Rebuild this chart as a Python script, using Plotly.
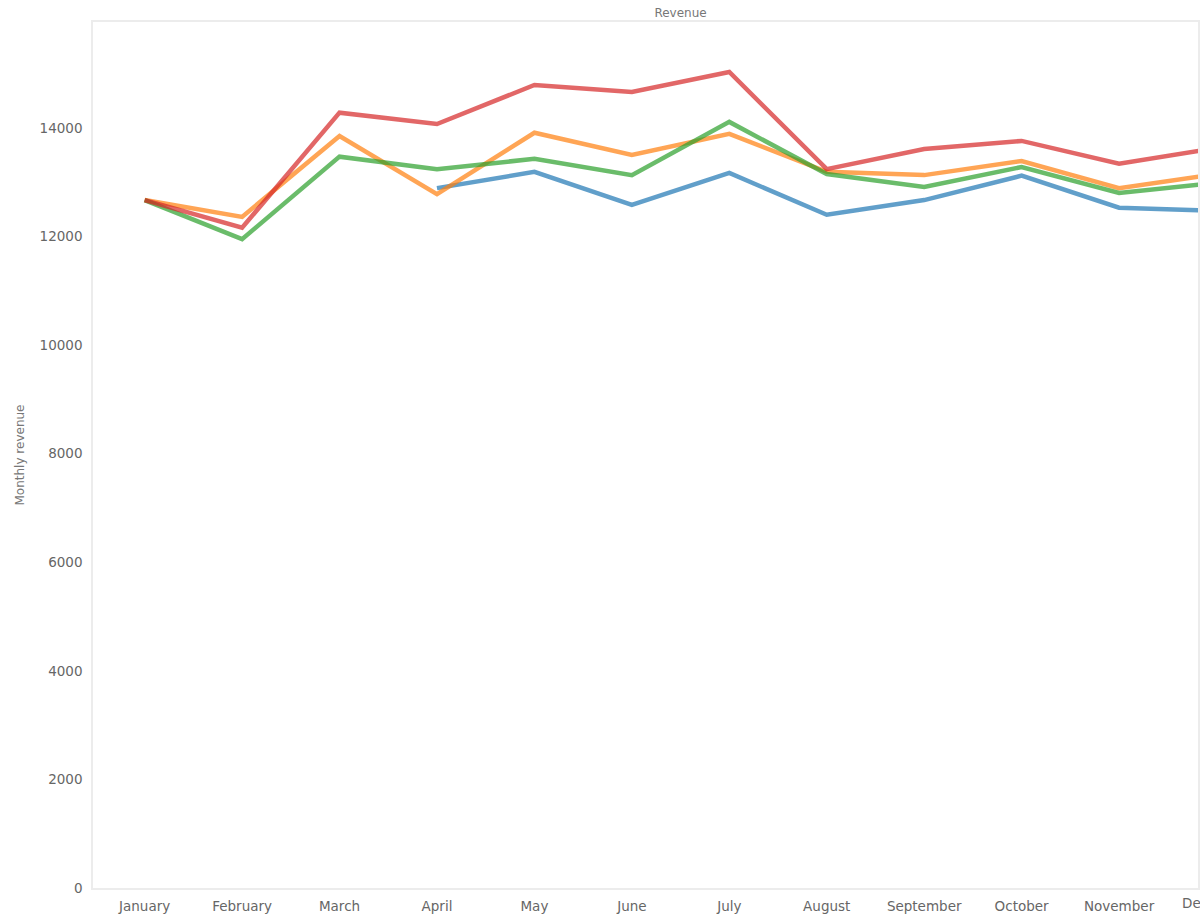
import plotly.graph_objects as go

months = ["January", "February", "March", "April", "May", "June", "July",
          "August", "September", "October", "November", "December"]

series_blue = [None, None, None, 12890, 13190, 12580, 13170, 12400, 12670, 13120, 12530, 12470]
series_orange = [12670, 12360, 13850, 12780, 13910, 13500, 13890, 13190, 13130, 13390, 12890, 13150]
series_green = [12670, 11950, 13470, 13240, 13430, 13130, 14110, 13150, 12910, 13280, 12800, 12990]
series_red = [12670, 12160, 14280, 14070, 14790, 14660, 15030, 13240, 13610, 13760, 13340, 13630]

y_ticks = [0, 2000, 4000, 6000, 8000, 10000, 12000, 14000]
y_max = 15950

series = [
    ("blue", series_blue, "#1f77b4"),
    ("orange", series_orange, "#ff7f0e"),
    ("green", series_green, "#2ca02c"),
    ("red", series_red, "#d62728"),
]

fig = go.Figure()
for name, vals, col in series:
    fig.add_trace(go.Scatter(x=months, y=vals, mode="lines", name=name,
                             line=dict(color=col, width=4.5), opacity=0.7,
                             connectgaps=False))

x_lo, x_hi = -0.53, 10.81
full_hi = len(months) - 1 - x_lo          # right end of the full (cropped) plot area
title_x = ((x_lo + full_hi) / 2 - x_lo) / (x_hi - x_lo)

tick_font = dict(family="DejaVu Sans", size=13.5, color="#666666")
label_font = dict(family="DejaVu Sans", size=12, color="#777777")

fig.update_layout(
    width=1200, height=918,
    margin=dict(l=93, r=0, t=22, b=30),
    paper_bgcolor="white", plot_bgcolor="white",
    showlegend=False,
    title=dict(text="Revenue", x=title_x, xanchor="center", xref="paper",
               y=0.986, yanchor="middle", font=label_font),
)
fig.update_xaxes(type="category", categoryorder="array", categoryarray=months,
                 range=[x_lo, x_hi], showgrid=False, zeroline=False,
                 showline=True, linecolor="#ececec", linewidth=1.5, mirror=True,
                 ticks="", tickfont=tick_font, ticklabelstandoff=5)
fig.update_yaxes(range=[0, y_max], tickvals=y_ticks, ticktext=[str(v) for v in y_ticks],
                 showgrid=False, zeroline=False,
                 showline=True, linecolor="#ececec", linewidth=1.5, mirror=True,
                 ticks="", tickfont=tick_font, ticklabelstandoff=6,
                 title=dict(text="Monthly revenue", font=label_font, standoff=12))

# last category label lies just past the visible edge of the plot area
dec_idx = months.index("December")
fig.add_annotation(x=(dec_idx - x_lo) / (x_hi - x_lo), xref="paper", y=0, yref="paper",
                   xanchor="center", yanchor="top", yshift=-5, text=months[dec_idx],
                   showarrow=False, font=tick_font)

fig.write_html("out.html", config={"displayModeBar": False},
               post_script="document.body.style.margin='0';document.body.style.overflow='hidden';")
